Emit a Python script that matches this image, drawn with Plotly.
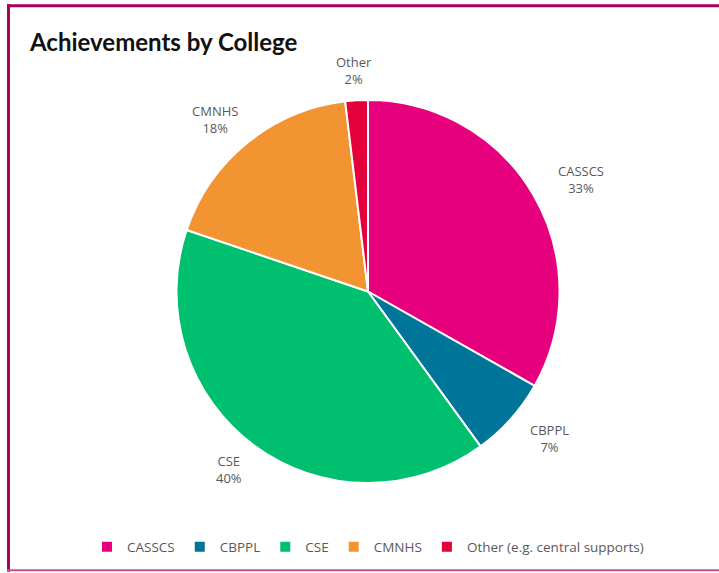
import math
import plotly.graph_objects as go

categories = ["CASSCS", "CBPPL", "CSE", "CMNHS", "Other (e.g. central supports)"]
short_labels = ["CASSCS", "CBPPL", "CSE", "CMNHS", "Other"]
values = [33.2, 6.8, 40.2, 17.9, 1.9]
colors = ["#E6007E", "#00759A", "#00BF6F", "#F39433", "#E4003B"]

W, H = 719, 573
L, R, T, B = 40, 23, 100, 89
PW, PH = W - L - R, H - T - B
RADIUS = min(PW, PH) / 2

def px(x):
    return (x - L) / PW

def py(y):
    return 1 - (y - T) / PH

fig = go.Figure(go.Pie(
    labels=categories,
    values=values,
    sort=False,
    direction="clockwise",
    rotation=0,
    marker=dict(colors=colors, line=dict(color="white", width=2)),
    textinfo="none",
    showlegend=True,
    hoverinfo="label+percent",
))

# data labels placed outside each slice at its mid-angle (derived from values)
total = sum(values)
annotations = []
cum = 0.0
for name, v in zip(short_labels, values):
    mid = (cum + v / 2) / total * 2 * math.pi
    cum += v
    ux, uy = math.sin(mid), math.cos(mid)  # uy is upward
    pct = f"{round(v / total * 100)}%"
    hw = 0.5 * max(len(name), len(pct)) * 7.5
    dx = ux * (RADIUS + 32 + hw)
    dy = uy * (RADIUS + 30)
    annotations.append(dict(
        x=0.5 + dx / PW, y=0.5 + dy / PH,
        xref="paper", yref="paper", showarrow=False,
        text=f"{name}<br>{pct}", align="center",
        xanchor="center", yanchor="middle",
        font=dict(family="Open Sans", size=13, color="#595959"),
    ))

border = "#AC0058"
fig.update_layout(
    width=W, height=H,
    margin=dict(l=L, r=R, t=T, b=B),
    paper_bgcolor="white",
    title=dict(text="<b>Achievements by College</b>", x=30 / W, xanchor="left",
               y=1 - 43 / H, yanchor="middle", xref="container", yref="container",
               font=dict(family="Lato", size=24, color="#111111")),
    legend=dict(orientation="h", x=0.5, xanchor="center", y=py(547), yanchor="middle",
                font=dict(family="Open Sans", size=13.5, color="#595959"),
                itemwidth=30, traceorder="normal"),
    annotations=annotations,
    shapes=[
        dict(type="line", xref="paper", yref="paper", x0=px(8.5), x1=px(8.5), y0=py(4), y1=py(573),
             line=dict(color=border, width=3)),
        dict(type="line", xref="paper", yref="paper", x0=px(7), x1=px(719), y0=py(5.5), y1=py(5.5),
             line=dict(color=border, width=3)),
        dict(type="line", xref="paper", yref="paper", x0=px(7), x1=px(719), y0=py(571.5), y1=py(571.5),
             line=dict(color="#CC4D8F", width=2)),
    ],
)

fig.write_html("out.html")
